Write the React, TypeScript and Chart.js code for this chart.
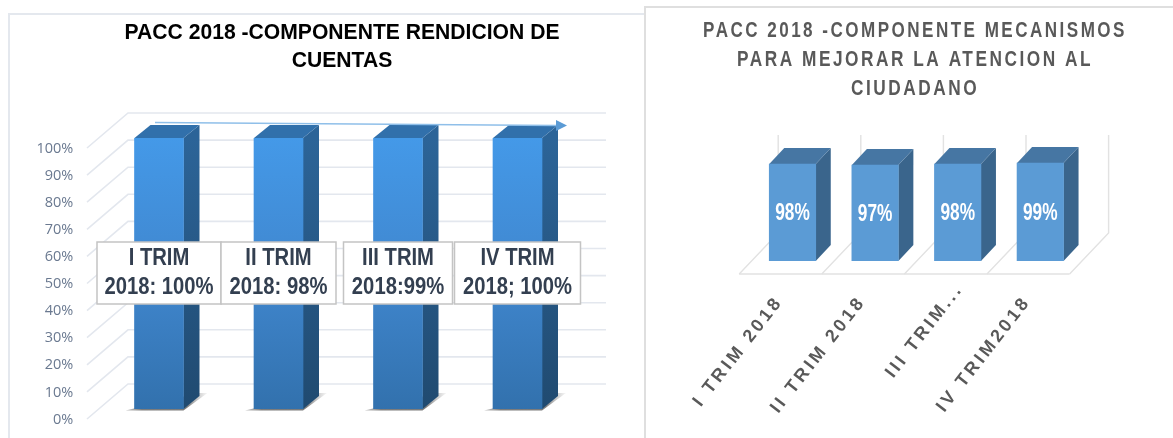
import React, { useEffect, useRef } from "react";
import { Chart, registerables } from "chart.js";

Chart.register(...registerables);

const leftTitle = ["PACC 2018 -COMPONENTE RENDICION DE", "CUENTAS"];
const leftCategories = ["I TRIM 2018", "II TRIM 2018", "III TRIM 2018", "IV TRIM 2018"];
const leftValues = [100, 100, 100, 100];
const leftCallouts = [
  ["I TRIM", "2018: 100%"],
  ["II TRIM", "2018: 98%"],
  ["III TRIM", "2018:99%"],
  ["IV TRIM", "2018; 100%"],
];
const rightTitle = ["PACC 2018 -COMPONENTE MECANISMOS", "PARA MEJORAR LA ATENCION AL", "CIUDADANO"];
const rightCategories = ["I TRIM 2018", "II TRIM 2018", "III TRIM...", "IV TRIM2018"];
const rightValues = [98, 97, 98, 99];

const H = 438;

function faces(chart: any, dx: number, dy: number, side: any, top: string) {
  const { ctx } = chart;
  for (const b of chart.getDatasetMeta(0).data as any[]) {
    const l = b.x - b.width / 2;
    const r = b.x + b.width / 2;
    ctx.fillStyle = side;
    ctx.beginPath();
    ctx.moveTo(r, b.y);
    ctx.lineTo(r + dx, b.y + dy);
    ctx.lineTo(r + dx, b.base + dy);
    ctx.lineTo(r, b.base);
    ctx.closePath();
    ctx.fill();
    ctx.fillStyle = top;
    ctx.beginPath();
    ctx.moveTo(l, b.y);
    ctx.lineTo(l + dx, b.y + dy);
    ctx.lineTo(r + dx, b.y + dy);
    ctx.lineTo(r, b.y);
    ctx.closePath();
    ctx.fill();
  }
}

// The reference title is squeezed horizontally and centred off the plot area.
function placeTitle(chart: any, left: number, right: number, squeeze: number, spacing: string) {
  const t = chart.titleBlock;
  t.left = left;
  t.right = right;
  if (!t.__wrapped) {
    t.__wrapped = true;
    const orig = t.draw;
    t.draw = function () {
      const { ctx } = chart;
      const cx = (left + right) / 2;
      ctx.save();
      ctx.letterSpacing = spacing;
      ctx.translate(cx, 0);
      ctx.scale(squeeze, 1);
      ctx.translate(-cx, 0);
      orig.call(this);
      ctx.restore();
    };
  }
}

const leftPlugin = {
  id: "left3d",
  afterLayout(chart: any) {
    placeTitle(chart, 0, 684, 0.96, "0px");
  },
  beforeDatasetsDraw(chart: any) {
    const { ctx } = chart;
    const ys = chart.scales.y;
    ctx.save();
    ctx.strokeStyle = "#e3e7ee";
    ctx.lineWidth = 1.6;
    for (const t of ys.ticks) {
      const p = ys.getPixelForValue(t.value);
      ctx.beginPath();
      ctx.moveTo(87, p + 10);
      ctx.lineTo(128, p - 25);
      ctx.lineTo(606, p - 25);
      ctx.stroke();
    }
    for (const b of chart.getDatasetMeta(0).data as any[]) {
      const r = b.x + b.width / 2;
      const g = ctx.createLinearGradient(r - 58, 0, r + 24, 0);
      g.addColorStop(0, "rgba(150,150,150,0.5)");
      g.addColorStop(0.2, "rgba(110,110,110,0.9)");
      g.addColorStop(0.75, "rgba(100,100,100,0.85)");
      g.addColorStop(1, "rgba(170,170,170,0.1)");
      ctx.fillStyle = g;
      ctx.beginPath();
      ctx.moveTo(r - 58, b.base + 1.5);
      ctx.lineTo(r, b.base + 1.5);
      ctx.lineTo(r + 24, b.base - 16);
      ctx.lineTo(r + 15, b.base - 16);
      ctx.closePath();
      ctx.fill();
    }
    const base = ys.getPixelForValue(0);
    const top = ys.getPixelForValue(100);
    const sg = ctx.createLinearGradient(0, top, 0, base);
    sg.addColorStop(0, "#2C6498");
    sg.addColorStop(1, "#204A70");
    faces(chart, 16, -13, sg, "#3170AB");
    ctx.restore();
  },
  afterDatasetsDraw(chart: any) {
    const { ctx } = chart;
    ctx.save();
    ctx.strokeStyle = "#8fbfe9";
    ctx.lineWidth = 1.5;
    ctx.beginPath();
    ctx.moveTo(155, 122.5);
    ctx.lineTo(557, 125.5);
    ctx.stroke();
    ctx.fillStyle = "#5B9BD5";
    ctx.beginPath();
    ctx.moveTo(556, 120);
    ctx.lineTo(567, 125.5);
    ctx.lineTo(556, 131);
    ctx.closePath();
    ctx.fill();
    const widths = [124, 115, 109, 126];
    const bars = chart.getDatasetMeta(0).data as any[];
    leftCallouts.forEach((lines, i) => {
      const cx = bars[i].x;
      ctx.fillStyle = "#ffffff";
      ctx.strokeStyle = "#c4c4c4";
      ctx.lineWidth = 1.5;
      ctx.beginPath();
      ctx.rect(cx - widths[i] / 2, 242, widths[i], 62);
      ctx.fill();
      ctx.stroke();
      ctx.save();
      ctx.translate(cx, 0);
      ctx.scale(0.88, 1);
      ctx.fillStyle = "#333F50";
      ctx.font = "bold 23px 'Liberation Sans'";
      ctx.textAlign = "center";
      ctx.textBaseline = "middle";
      ctx.fillText(lines[0], 0, 259);
      ctx.fillText(lines[1], 0, 288);
      ctx.restore();
    });
    ctx.restore();
  },
};

const rightPlugin = {
  id: "right3d",
  afterLayout(chart: any) {
    placeTitle(chart, 0, 540, 0.785, "3.2px");
  },
  beforeDraw(chart: any) {
    const { ctx } = chart;
    const xs = chart.scales.x;
    if (!xs.__wrapped) {
      xs.__wrapped = true;
      const orig = xs.drawLabels;
      xs.drawLabels = function (area: any) {
        const prev = ctx.letterSpacing;
        ctx.letterSpacing = "3.2px";
        orig.call(this, area);
        ctx.letterSpacing = prev;
      };
    }
    const items = xs.getLabelItems();
    if (items[2] && !items[2].__moved) {
      items[2].__moved = true;
      const t = items[2].options.translation;
      items[2].options.translation = [t[0] + 15, t[1] - 13];
    }
  },
  beforeDatasetsDraw(chart: any) {
    const { ctx } = chart;
    const xs = chart.scales.x;
    const ys = chart.scales.y;
    const zero = ys.getPixelForValue(0);
    const top = ys.getPixelForValue(100);
    ctx.save();
    ctx.strokeStyle = "#e2e2e2";
    ctx.lineWidth = 1.4;
    const n = rightCategories.length;
    const step = (xs.right - xs.left) / n;
    for (let i = 0; i <= n; i++) {
      const bx = xs.left + i * step;
      ctx.beginPath();
      ctx.moveTo(bx - 12, zero + 13);
      ctx.lineTo(bx + 27, zero - 28);
      ctx.lineTo(bx + 27, top - 27);
      ctx.stroke();
    }
    ctx.beginPath();
    ctx.moveTo(xs.left - 12, zero + 13);
    ctx.lineTo(xs.right - 12, zero + 13);
    ctx.stroke();
    faces(chart, 15, -16, "#3A658C", "#4676A3");
    ctx.restore();
  },
  afterDatasetsDraw(chart: any) {
    const { ctx } = chart;
    ctx.save();
    ctx.fillStyle = "#ffffff";
    ctx.font = "bold 24px 'Liberation Sans'";
    ctx.textAlign = "center";
    ctx.textBaseline = "middle";
    (chart.getDatasetMeta(0).data as any[]).forEach((b, i) => {
      ctx.save();
      ctx.translate(b.x, (b.y + b.base) / 2 + 1);
      ctx.scale(0.72, 1);
      ctx.fillText(rightValues[i] + "%", 0, 0);
      ctx.restore();
    });
    ctx.restore();
  },
};

export default function App() {
  const leftRef = useRef<HTMLCanvasElement>(null);
  const rightRef = useRef<HTMLCanvasElement>(null);

  useEffect(() => {
    const left = new Chart(leftRef.current as HTMLCanvasElement, {
      type: "bar",
      data: {
        labels: leftCategories,
        datasets: [
          {
            data: leftValues,
            barThickness: 49,
            backgroundColor: (c: any) => {
              const a = c.chart.chartArea;
              if (!a) return "#3F8AD6";
              const g = c.chart.ctx.createLinearGradient(0, a.top, 0, a.bottom);
              g.addColorStop(0, "#4499E8");
              g.addColorStop(0.5, "#4087CF");
              g.addColorStop(1, "#3271AD");
              return g;
            },
          },
        ],
      },
      plugins: [leftPlugin],
      options: {
        responsive: false,
        animation: false,
        layout: { autoPadding: false, padding: { left: 0, right: 644 - 577.25, top: 0, bottom: 0 } },
        plugins: {
          legend: { display: false },
          tooltip: { enabled: false },
          title: {
            display: true,
            text: leftTitle,
            color: "#000000",
            font: { family: "'Liberation Sans'", size: 22, weight: "bold", lineHeight: 1.2727 },
            padding: { top: 19, bottom: 63 },
          },
        },
        scales: {
          x: {
            display: true,
            offset: true,
            grid: { display: false, drawTicks: false },
            border: { display: false },
            ticks: { display: false },
            afterFit: (s: any) => { s.height = H - 409; },
          },
          y: {
            min: 0,
            max: 100,
            grid: { display: false, drawTicks: false },
            border: { display: false },
            ticks: {
              stepSize: 10,
              autoSkip: false,
              padding: 26,
              labelOffset: 10.5,
              color: "#6A7990",
              font: { family: "'Open Sans'", size: 14.5 },
              callback: (v: any) => v + "%",
            },
            afterFit: (s: any) => {
              s.width = 99.25;
              s.paddingTop = 0;
              s.paddingBottom = 0;
            },
          },
        },
      } as any,
    });

    const right = new Chart(rightRef.current as HTMLCanvasElement, {
      type: "bar",
      data: {
        labels: rightCategories,
        datasets: [{ data: rightValues, barThickness: 46.5, backgroundColor: "#5B9BD5" }],
      },
      plugins: [rightPlugin],
      options: {
        responsive: false,
        animation: false,
        layout: { autoPadding: false, padding: { left: 12, right: 91.4, top: 0, bottom: 0 } },
        plugins: {
          legend: { display: false },
          tooltip: { enabled: false },
          title: {
            display: true,
            text: rightTitle,
            color: "#595959",
            font: { family: "'Liberation Sans'", size: 22, weight: "bold", lineHeight: 1.318 },
            padding: { top: 16, bottom: 59 },
          },
        },
        scales: {
          x: {
            offset: true,
            grid: { display: false, drawTicks: false },
            border: { display: false },
            ticks: {
              autoSkip: false,
              minRotation: 52,
              maxRotation: 52,
              padding: 31,
              labelOffset: -13,
              color: "#595959",
              font: { family: "'Liberation Sans'", size: 18, weight: "bold" },
            },
            afterFit: (s: any) => { s.height = H - 261; },
          },
          y: {
            min: 0,
            max: 100,
            grid: { display: false, drawTicks: false },
            border: { display: false },
            ticks: { display: false, stepSize: 20 },
            afterFit: (s: any) => { s.width = 94.2; },
          },
        },
      } as any,
    });

    return () => {
      left.destroy();
      right.destroy();
    };
  }, []);

  const abs = (s: React.CSSProperties): React.CSSProperties => ({ position: "absolute", ...s });
  return (
    <div style={abs({ left: 0, top: 0, width: 1173, height: H, overflow: "hidden", background: "#fff" })}>
      <div style={abs({ left: 8, top: 13, width: 636, height: 2, background: "#e4e8ee" })} />
      <div style={abs({ left: 8, top: 13, width: 2, height: H - 13, background: "#e4e8ee" })} />
      <div style={abs({ left: 644, top: 6, width: 529, height: 2, background: "#dfdfdf" })} />
      <div style={abs({ left: 644, top: 6, width: 2, height: H - 6, background: "#dfdfdf" })} />
      <canvas ref={leftRef} width={644} height={H} style={abs({ left: 0, top: 0, width: 644, height: H })} />
      <canvas ref={rightRef} width={528} height={H} style={abs({ left: 645, top: 0, width: 528, height: H })} />
    </div>
  );
}
